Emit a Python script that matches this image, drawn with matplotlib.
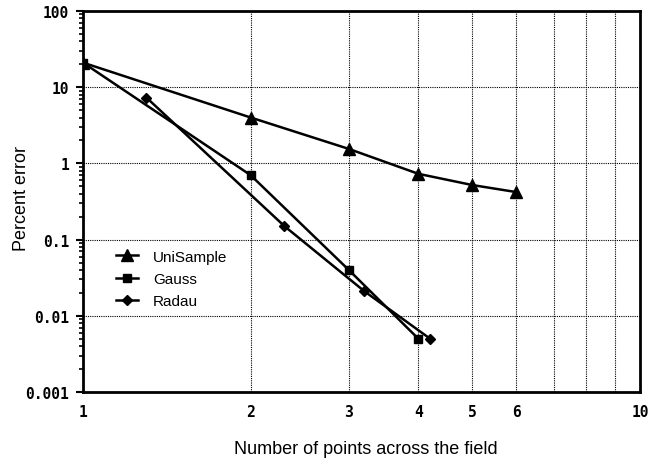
import numpy as np
import matplotlib
matplotlib.use("Agg")
import matplotlib.pyplot as plt
from matplotlib.ticker import FixedLocator, NullFormatter, LogLocator

# values
uni_x = [1, 2, 3, 4, 5, 6]
uni_y = [21, 4.0, 1.55, 0.73, 0.52, 0.42]
gauss_x = [1, 2, 3, 4]
gauss_y = [21, 0.7, 0.04, 0.005]
radau_x = [1.3, 2.3, 3.2, 4.2]
radau_y = [7.3, 0.15, 0.021, 0.005]

x_ticks = [1, 2, 3, 4, 5, 6, 10]
x_grid = [2, 3, 4, 5, 6, 7, 8, 9]
y_ticks = [0.001, 0.01, 0.1, 1, 10, 100]
y_labels = ["0.001", "0.01", "0.1", "1", "10", "100"]

plt.rcParams['font.family'] = ['Liberation Sans', 'DejaVu Sans']

fig = plt.figure(figsize=(6.6, 4.6), dpi=100)
ax = fig.add_axes([83/660, 67/460, 557/660, 381/460])
ax.set_xscale('log')
ax.set_yscale('log')
ax.set_xlim(1, 10)
ax.set_ylim(0.001, 100)

# dotted grid
for gx in x_grid:
    ax.axvline(gx, color='black', lw=0.8, ls=(0, (1, 1)), zorder=1)
for gy in y_ticks[1:-1]:
    ax.axhline(gy, color='black', lw=0.8, ls=(0, (1, 1)), zorder=1)

ax.plot(uni_x, uni_y, color='black', lw=1.8, marker='^', ms=8, label='UniSample', zorder=3)
ax.plot(gauss_x, gauss_y, color='black', lw=1.8, marker='s', ms=6, label='Gauss', zorder=3)
ax.plot(radau_x, radau_y, color='black', lw=1.8, marker='D', ms=5.5, label='Radau', zorder=3)

ax.xaxis.set_major_locator(FixedLocator(x_ticks))
ax.xaxis.set_minor_locator(FixedLocator([]))
ax.set_xticklabels([str(v) for v in x_ticks])
ax.xaxis.set_minor_formatter(NullFormatter())
ax.yaxis.set_major_locator(FixedLocator(y_ticks))
ax.set_yticklabels(y_labels)
ax.yaxis.set_minor_locator(LogLocator(base=10, subs=np.arange(2, 10)))
ax.yaxis.set_minor_formatter(NullFormatter())

ax.tick_params(axis='x', which='major', length=0, pad=9)
ax.tick_params(axis='y', which='major', direction='out', length=5, width=1.5, pad=5)
ax.tick_params(axis='y', which='minor', direction='out', length=3, width=1.2)
for lab in ax.get_xticklabels() + ax.get_yticklabels():
    lab.set_family(['DejaVu Sans Mono'])
    lab.set_fontsize(10.5)
    lab.set_fontweight('bold')

for s in ax.spines.values():
    s.set_linewidth(2)
    s.set_color('black')

ax.set_ylabel('Percent error', fontsize=13)
ax.yaxis.set_label_coords(-0.095, 0.51)
ax.set_xlabel('Number of points across the field', fontsize=13)
ax.xaxis.set_label_coords(0.508, -0.125)

ax.legend(loc='upper left', bbox_to_anchor=(0.035, 0.41), frameon=False,
          fontsize=11, handlelength=1.4, handletextpad=1.0, labelspacing=0.55)

fig.savefig('out.png', dpi=100)
